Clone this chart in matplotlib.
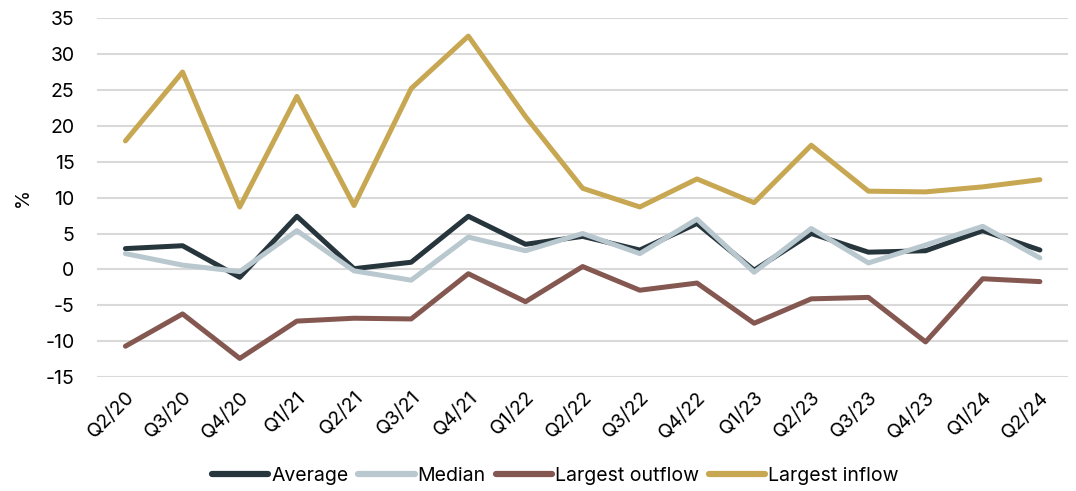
import matplotlib.pyplot as plt

plt.rcParams['font.family'] = ['Inter', 'DejaVu Sans']
plt.rcParams['axes.unicode_minus'] = False

quarters = ["Q2/20", "Q3/20", "Q4/20", "Q1/21", "Q2/21", "Q3/21", "Q4/21", "Q1/22",
            "Q2/22", "Q3/22", "Q4/22", "Q1/23", "Q2/23", "Q3/23", "Q4/23", "Q1/24", "Q2/24"]

average = [2.9, 3.3, -1.1, 7.4, 0.1, 1.0, 7.4, 3.5, 4.6, 2.7, 6.4, -0.1, 5.0, 2.4, 2.6, 5.4, 2.7]
median = [2.2, 0.6, -0.3, 5.4, -0.2, -1.5, 4.5, 2.6, 5.0, 2.2, 7.0, -0.4, 5.7, 0.9, 3.4, 6.0, 1.6]
largest_outflow = [-10.7, -6.2, -12.4, -7.2, -6.8, -6.9, -0.6, -4.5, 0.4, -2.9, -1.9,
                   -7.5, -4.1, -3.9, -10.1, -1.3, -1.7]
largest_inflow = [17.9, 27.5, 8.7, 24.1, 8.9, 25.2, 32.5, 21.3, 11.3, 8.7, 12.6,
                  9.3, 17.3, 10.9, 10.8, 11.5, 12.5]

fig = plt.figure(figsize=(10.76, 4.91), dpi=100)
ax = fig.add_axes([0.090, 0.232, 0.903, 0.731])

x = range(len(quarters))
lw = 3.6
ax.plot(x, average, color="#27363c", lw=lw, solid_capstyle="round", label="Average")
ax.plot(x, median, color="#b9c7ce", lw=lw, solid_capstyle="round", label="Median")
ax.plot(x, largest_outflow, color="#845851", lw=lw, solid_capstyle="round", label="Largest outflow")
ax.plot(x, largest_inflow, color="#c8a752", lw=lw, solid_capstyle="round", label="Largest inflow")

ax.set_ylim(-15, 35)
ax.set_xlim(-0.5, len(quarters) - 0.5)
ax.set_yticks(range(-15, 36, 5))
ax.set_xticks(list(x))
ax.set_xticklabels(quarters, rotation=45, ha="right", rotation_mode="anchor")
ax.tick_params(axis="both", length=0, labelsize=14, colors="black")
ax.tick_params(axis="y", pad=16)
ax.tick_params(axis="x", pad=8)
ax.grid(axis="y", color="#d9d9d9", lw=1.5)
ax.set_axisbelow(True)
for s in ax.spines.values():
    s.set_visible(False)
ax.set_ylabel("%", fontsize=14, labelpad=10)

leg = fig.legend(loc="center", bbox_to_anchor=(0.516, 0.031), ncol=4, frameon=False,
                 fontsize=14, handlelength=2.9, handletextpad=0.15, columnspacing=0.5)
for line in leg.get_lines():
    line.set_linewidth(4.5)

fig.savefig("out.png", dpi=100)
